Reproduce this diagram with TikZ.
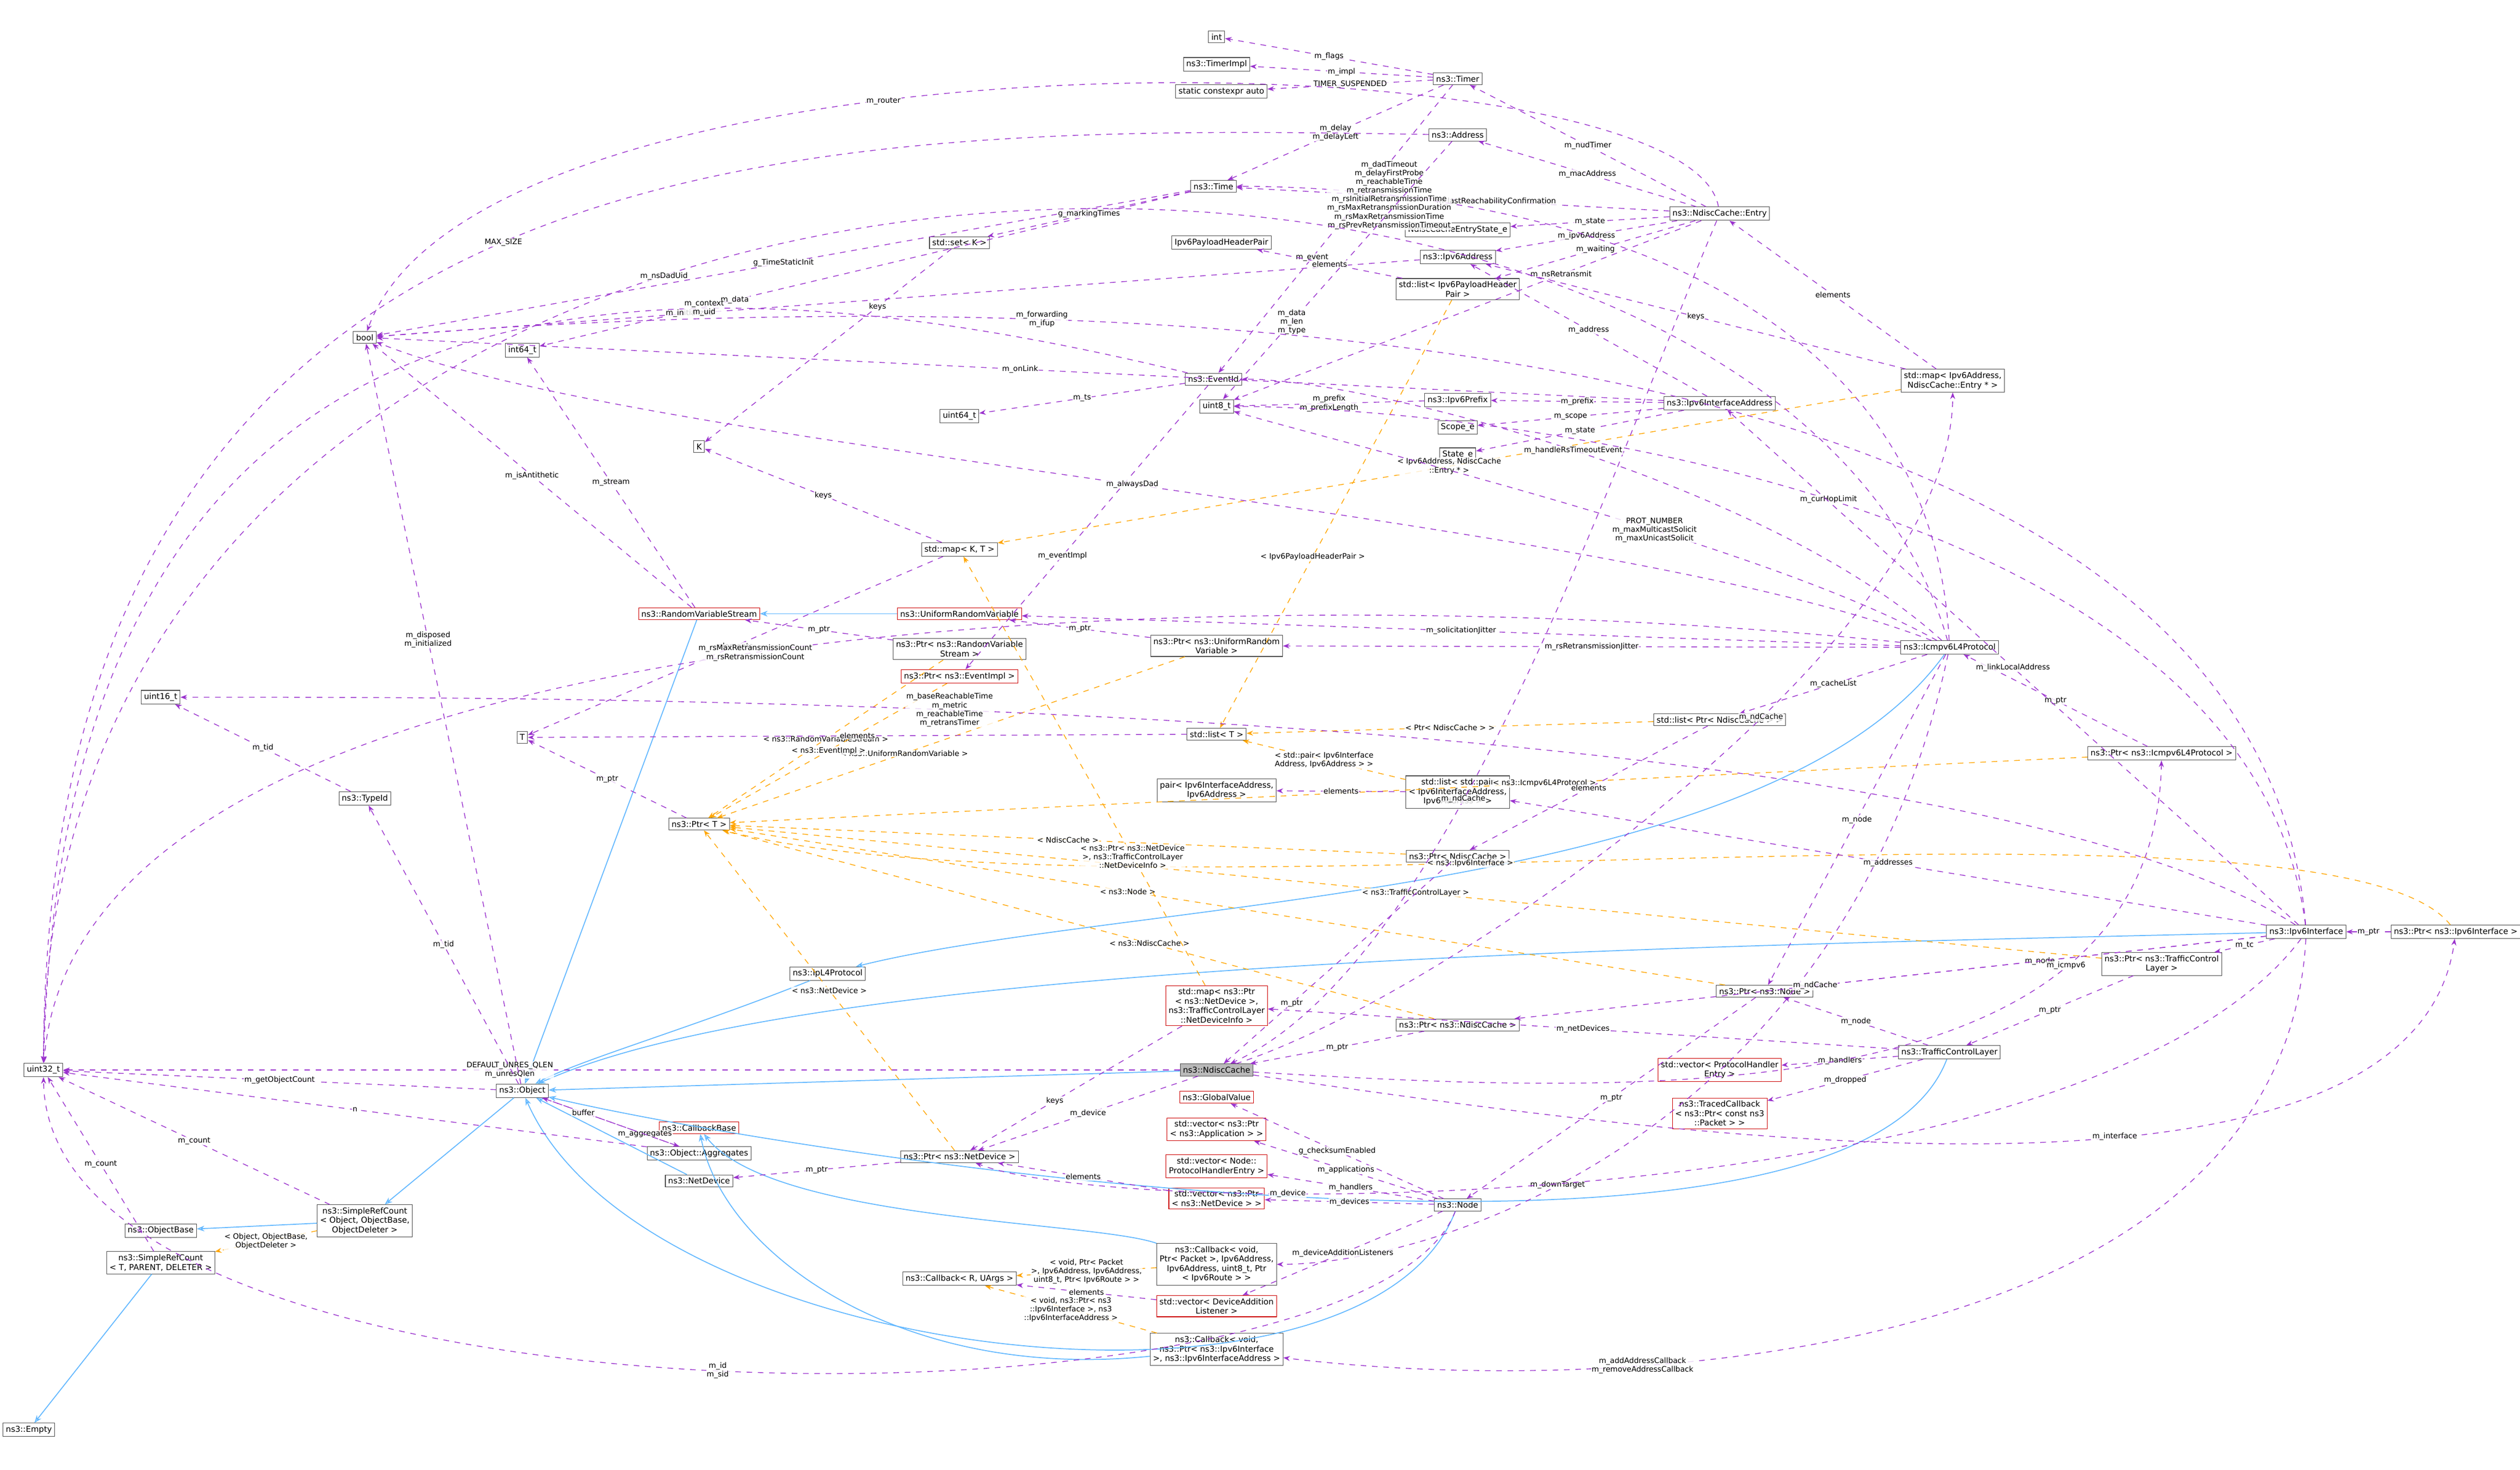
\documentclass[tikz,border=0pt]{standalone}
\usepackage{fontspec}
\setmainfont{DejaVu Sans}
\usetikzlibrary{arrows.meta}
\definecolor{usecol}{HTML}{9A32CD}
\definecolor{tplcol}{HTML}{FFA500}
\definecolor{inhcol}{HTML}{63B8FF}
\tikzset{
  cls/.style={draw=gray!60!black, fill=white, font=\fontsize{4.3}{5}\selectfont, inner sep=1.5pt, align=center, line width=0.3pt},
  redcls/.style={cls, draw=red!80!black},
  rootcls/.style={cls, fill=gray!55},
  uses/.style={draw=usecol, dashed, line width=0.4pt, -{Stealth[length=3.5pt]}},
  tpl/.style={draw=tplcol, dashed, line width=0.4pt, -{Stealth[length=3.5pt]}},
  inh/.style={draw=inhcol, line width=0.5pt, -{Stealth[length=4pt,open]}},
  lbl/.style={font=\fontsize{4}{4.6}\selectfont, align=center, fill=white, fill opacity=0.8, text opacity=1, inner sep=0.4pt}
}
\begin{document}
\begin{tikzpicture}[x=0.03cm, y=-0.03cm]
\useasboundingbox (0,0) rectangle (1568,915);

% nodes, top to bottom
\node[cls] (int) at (757,23) {int};
\node[cls] (timerimpl) at (757,40) {ns3::TimerImpl};
\node[cls] (sca) at (760,57) {static constexpr auto};
\node[cls] (timer) at (907,49) {ns3::Timer};
\node[cls] (address) at (907,84) {ns3::Address};
\node[cls] (time) at (755,116) {ns3::Time};
\node[cls] (entry) at (1070,133) {ns3::NdiscCache::Entry};
\node[cls] (state) at (907,143) {NdiscCacheEntryState\_e};
\node[cls] (phpair) at (760,151) {Ipv6PayloadHeaderPair};
\node[cls] (ip6addr) at (907,160) {ns3::Ipv6Address};
\node[cls] (setk) at (597,151) {std::set\textless{} K \textgreater{}};
\node[cls] (listph) at (907,180) {std::list\textless{} Ipv6PayloadHeader\\Pair \textgreater{}};
\node[cls] (bool) at (227,210) {bool};
\node[cls] (int64) at (325,218) {int64\_t};
\node[cls] (eventid) at (755,236) {ns3::EventId};
\node[cls] (uint64) at (597,259) {uint64\_t};
\node[cls] (uint8) at (757,253) {uint8\_t};
\node[cls] (prefix) at (907,249) {ns3::Ipv6Prefix};
\node[cls] (scope) at (907,266) {Scope\_e};
\node[cls] (statee) at (907,283) {State\_e};
\node[cls] (ifaddr) at (1070,251) {ns3::Ipv6InterfaceAddress};
\node[cls] (mapentry) at (1215,237) {std::map\textless{} Ipv6Address,\\NdiscCache::Entry * \textgreater{}};
\node[cls] (k) at (435,278) {K};
\node[cls] (mapkt) at (597,342) {std::map\textless{} K, T \textgreater{}};
\node[redcls] (rvs) at (435,382) {ns3::RandomVariableStream};
\node[redcls] (urv) at (597,382) {ns3::UniformRandomVariable};
\node[cls] (ptrrvs) at (597,404) {ns3::Ptr\textless{} ns3::RandomVariable\\Stream \textgreater{}};
\node[cls] (ptrurv) at (757,402) {ns3::Ptr\textless{} ns3::UniformRandom\\Variable \textgreater{}};
\node[redcls] (ptrev) at (597,421) {ns3::Ptr\textless{} ns3::EventImpl \textgreater{}};
\node[cls] (icmp) at (1213,403) {ns3::Icmpv6L4Protocol};
\node[cls] (uint16) at (100,434) {uint16\_t};
\node[cls] (t) at (325,459) {T};
\node[cls] (listt) at (757,457) {std::list\textless{} T \textgreater{}};
\node[cls] (listnc) at (1070,448) {std::list\textless{} Ptr\textless{} NdiscCache \textgreater{} \textgreater{}};
\node[cls] (ptricmp) at (1345,469) {ns3::Ptr\textless{} ns3::Icmpv6L4Protocol \textgreater{}};
\node[cls] (typeid) at (227,497) {ns3::TypeId};
\node[cls] (pair) at (757,492) {pair\textless{} Ipv6InterfaceAddress,\\Ipv6Address \textgreater{}};
\node[cls] (listpair) at (907,493) {std::list\textless{} std::pair\\\textless{} Ipv6InterfaceAddress,\\Ipv6Address \textgreater{} \textgreater{}};
\node[cls] (ptrt) at (435,513) {ns3::Ptr\textless{} T \textgreater{}};
\node[cls] (ptrnc) at (907,533) {ns3::Ptr\textless{} NdiscCache \textgreater{}};
\node[cls] (iface) at (1435,580) {ns3::Ipv6Interface};
\node[cls] (ptriface) at (1528,580) {ns3::Ptr\textless{} ns3::Ipv6Interface \textgreater{}};
\node[cls] (ipl4) at (515,606) {ns3::IpL4Protocol};
\node[cls] (ptrtc) at (1345,600) {ns3::Ptr\textless{} ns3::TrafficControl\\Layer \textgreater{}};
\node[cls] (ptrnode) at (1098,617) {ns3::Ptr\textless{} ns3::Node \textgreater{}};
\node[redcls] (mapnd) at (757,626) {std::map\textless{} ns3::Ptr\\\textless{} ns3::NetDevice \textgreater{},\\ns3::TrafficControlLayer\\::NetDeviceInfo \textgreater{}};
\node[cls] (ptrnc2) at (907,638) {ns3::Ptr\textless{} ns3::NdiscCache \textgreater{}};
\node[cls] (tcl) at (1213,655) {ns3::TrafficControlLayer};
\node[cls] (uint32) at (27,666) {uint32\_t};
\node[rootcls] (ndisc) at (757,666) {ns3::NdiscCache};
\node[redcls] (vecphe) at (1070,666) {std::vector\textless{} ProtocolHandler\\Entry \textgreater{}};
\node[cls] (object) at (325,679) {ns3::Object};
\node[redcls] (global) at (757,683) {ns3::GlobalValue};
\node[redcls] (traced) at (1070,693) {ns3::TracedCallback\\\textless{} ns3::Ptr\textless{} const ns3\\::Packet \textgreater{} \textgreater{}};
\node[redcls] (cbbase) at (435,702) {ns3::CallbackBase};
\node[redcls] (vecapp) at (757,703) {std::vector\textless{} ns3::Ptr\\\textless{} ns3::Application \textgreater{} \textgreater{}};
\node[cls] (aggr) at (435,718) {ns3::Object::Aggregates};
\node[cls] (ptrnd) at (597,720) {ns3::Ptr\textless{} ns3::NetDevice \textgreater{}};
\node[redcls] (vecnphe) at (757,726) {std::vector\textless{} Node::\\ProtocolHandlerEntry \textgreater{}};
\node[cls] (netdev) at (435,735) {ns3::NetDevice};
\node[redcls] (vecnd) at (757,746) {std::vector\textless{} ns3::Ptr\\\textless{} ns3::NetDevice \textgreater{} \textgreater{}};
\node[cls] (node) at (907,750) {ns3::Node};
\node[cls] (src) at (227,760) {ns3::SimpleRefCount\\\textless{} Object, ObjectBase,\\ObjectDeleter \textgreater{}};
\node[cls] (objbase) at (100,766) {ns3::ObjectBase};
\node[cls] (srt) at (100,786) {ns3::SimpleRefCount\\\textless{} T, PARENT, DELETER \textgreater{}};
\node[cls] (cbpkt) at (757,787) {ns3::Callback\textless{} void,\\Ptr\textless{} Packet \textgreater{}, Ipv6Address,\\Ipv6Address, uint8\_t, Ptr\\\textless{} Ipv6Route \textgreater{} \textgreater{}};
\node[cls] (cbr) at (597,796) {ns3::Callback\textless{} R, UArgs \textgreater{}};
\node[redcls] (vecdal) at (757,813) {std::vector\textless{} DeviceAddition\\Listener \textgreater{}};
\node[cls] (cbif) at (757,840) {ns3::Callback\textless{} void,\\ns3::Ptr\textless{} ns3::Ipv6Interface\\\textgreater{}, ns3::Ipv6InterfaceAddress \textgreater{}};
\node[cls] (empty) at (18,890) {ns3::Empty};

% inheritance
\draw[inh] (ndisc) -- (object);
\draw[inh] (rvs) -- (object);
\draw[inh] (urv) -- (rvs);
\draw[inh] (ipl4) .. controls (430,640) and (360,660) .. (object);
\draw[inh] (icmp) .. controls (1100,560) and (700,560) .. (ipl4);
\draw[inh] (iface) .. controls (1000,590) and (500,600) .. (object);
\draw[inh] (tcl) .. controls (1150,820) and (500,720) .. (object);
\draw[inh] (netdev) -- (object);
\draw[inh] (node) .. controls (850,900) and (400,850) .. (object);
\draw[inh] (object) -- (src);
\draw[inh] (src) -- (objbase);
\draw[inh] (srt) -- (empty);
\draw[inh] (cbpkt) .. controls (680,760) and (480,760) .. (cbbase);
\draw[inh] (cbif) .. controls (560,860) and (450,780) .. (cbbase);

% template instances
\draw[tpl] (src) -- node[lbl]{\textless{} Object, ObjectBase,\\ObjectDeleter \textgreater{}} (srt);
\draw[tpl] (listph) -- node[lbl, pos=0.6]{\textless{} Ipv6PayloadHeaderPair \textgreater{}} (listt);
\draw[tpl] (mapentry) -- node[lbl, pos=0.5]{\textless{} Ipv6Address, NdiscCache\\::Entry * \textgreater{}} (mapkt);
\draw[tpl] (listnc) -- node[lbl]{\textless{} Ptr\textless{} NdiscCache \textgreater{} \textgreater{}} (listt);
\draw[tpl] (listpair) -- node[lbl]{\textless{} std::pair\textless{} Ipv6Interface\\Address, Ipv6Address \textgreater{} \textgreater{}} (listt);
\draw[tpl] (ptrrvs) -- node[lbl]{\textless{} ns3::RandomVariableStream \textgreater{}} (ptrt);
\draw[tpl] (ptrurv) -- node[lbl, pos=0.6]{\textless{} ns3::UniformRandomVariable \textgreater{}} (ptrt);
\draw[tpl] (ptrev) -- node[lbl]{\textless{} ns3::EventImpl \textgreater{}} (ptrt);
\draw[tpl] (ptricmp) -- node[lbl, pos=0.4]{\textless{} ns3::Icmpv6L4Protocol \textgreater{}} (ptrt);
\draw[tpl] (ptrnc) -- node[lbl]{\textless{} NdiscCache \textgreater{}} (ptrt);
\draw[tpl] (ptrnode) -- node[lbl, pos=0.6]{\textless{} ns3::Node \textgreater{}} (ptrt);
\draw[tpl] (ptriface) .. controls (1450,480) and (700,580) .. node[lbl, pos=0.6]{\textless{} ns3::Ipv6Interface \textgreater{}} (ptrt);
\draw[tpl] (ptrtc) -- node[lbl, pos=0.5]{\textless{} ns3::TrafficControlLayer \textgreater{}} (ptrt);
\draw[tpl] (ptrnc2) -- node[lbl, pos=0.4]{\textless{} ns3::NdiscCache \textgreater{}} (ptrt);
\draw[tpl] (ptrnd) -- node[lbl]{\textless{} ns3::NetDevice \textgreater{}} (ptrt);
\draw[tpl] (mapnd) -- node[lbl, pos=0.3]{\textless{} ns3::Ptr\textless{} ns3::NetDevice\\\textgreater{}, ns3::TrafficControlLayer\\::NetDeviceInfo \textgreater{}} (mapkt);
\draw[tpl] (cbpkt) -- node[lbl]{\textless{} void, Ptr\textless{} Packet\\\textgreater{}, Ipv6Address, Ipv6Address,\\uint8\_t, Ptr\textless{} Ipv6Route \textgreater{} \textgreater{}} (cbr);
\draw[tpl] (cbif) -- node[lbl]{\textless{} void, ns3::Ptr\textless{} ns3\\::Ipv6Interface \textgreater{}, ns3\\::Ipv6InterfaceAddress \textgreater{}} (cbr);

% members
\draw[uses] (timer) -- node[lbl]{m\_flags} (int);
\draw[uses] (timer) -- node[lbl]{m\_impl} (timerimpl);
\draw[uses] (timer) -- node[lbl]{TIMER\_SUSPENDED} (sca);
\draw[uses] (timer) -- node[lbl]{m\_delay\\m\_delayLeft} (time);
\draw[uses] (timer) -- node[lbl, pos=0.6]{m\_event} (eventid);
\draw[uses] (entry) -- node[lbl]{m\_nudTimer} (timer);
\draw[uses] (entry) -- node[lbl]{m\_macAddress} (address);
\draw[uses] (entry) -- node[lbl, pos=0.4]{m\_lastReachabilityConfirmation} (time);
\draw[uses] (entry) -- node[lbl]{m\_state} (state);
\draw[uses] (entry) -- node[lbl]{m\_ipv6Address} (ip6addr);
\draw[uses] (entry) -- node[lbl]{m\_waiting} (listph);
\draw[uses] (entry) -- node[lbl, pos=0.3]{m\_nsRetransmit} (uint8);
\draw[uses] (entry) .. controls (1050,20) and (300,10) .. node[lbl, pos=0.6]{m\_router} (bool);
\draw[uses] (entry) .. controls (1000,300) and (900,600) .. node[lbl, pos=0.6]{m\_ndCache} (ndisc);
\draw[uses] (icmp) .. controls (1200,150) and (900,116) .. node[lbl, pos=0.8]{m\_dadTimeout\\m\_delayFirstProbe\\m\_reachableTime\\m\_retransmissionTime\\m\_rsInitialRetransmissionTime\\m\_rsMaxRetransmissionDuration\\m\_rsMaxRetransmissionTime\\m\_rsPrevRetransmissionTimeout} (time);
\draw[uses] (icmp) .. controls (1100,5) and (30,5) .. node[lbl, pos=0.6]{m\_nsDadUid} (uint32);
\draw[uses] (time) -- node[lbl]{g\_TimeStaticInit} (bool);
\draw[uses] (time) -- node[lbl, pos=0.7]{m\_data} (int64);
\draw[uses] (time) -- node[lbl]{g\_markingTimes} (setk);
\draw[uses] (address) .. controls (500,77) and (30,77) .. node[lbl, pos=0.5]{MAX\_SIZE} (uint32);
\draw[uses] (address) -- node[lbl, pos=0.7]{m\_data\\m\_len\\m\_type} (uint8);
\draw[uses] (ip6addr) -- node[lbl, pos=0.7]{m\_initialized} (bool);
\draw[uses] (listph) -- node[lbl]{elements} (phpair);
\draw[uses] (setk) -- node[lbl, pos=0.3]{keys} (k);
\draw[uses] (eventid) .. controls (400,150) and (40,150) .. node[lbl, pos=0.3]{m\_context\\m\_uid} (uint32);
\draw[uses] (eventid) -- node[lbl]{m\_ts} (uint64);
\draw[uses] (eventid) -- node[lbl, pos=0.6]{m\_eventImpl} (ptrev);
\draw[uses] (prefix) -- node[lbl]{m\_prefix\\m\_prefixLength} (uint8);
\draw[uses] (ifaddr) -- node[lbl]{m\_prefix} (prefix);
\draw[uses] (ifaddr) -- node[lbl]{m\_scope} (scope);
\draw[uses] (ifaddr) -- node[lbl]{m\_state} (statee);
\draw[uses] (ifaddr) -- node[lbl]{m\_address} (ip6addr);
\draw[uses] (ifaddr) -- node[lbl, pos=0.5]{m\_onLink} (bool);
\draw[uses] (mapentry) -- node[lbl]{elements} (entry);
\draw[uses] (mapentry) -- node[lbl]{keys} (ip6addr);
\draw[uses] (mapkt) -- node[lbl]{keys} (k);
\draw[uses] (mapkt) -- node[lbl, pos=0.5]{elements} (t);
\draw[uses] (rvs) -- node[lbl]{m\_isAntithetic} (bool);
\draw[uses] (rvs) -- node[lbl]{m\_stream} (int64);
\draw[uses] (ptrrvs) -- node[lbl]{m\_ptr} (rvs);
\draw[uses] (ptrurv) -- node[lbl]{m\_ptr} (urv);
\draw[uses] (icmp) -- node[lbl]{m\_solicitationJitter} (urv);
\draw[uses] (icmp) -- node[lbl]{m\_rsRetransmissionJitter} (ptrurv);
\draw[uses] (icmp) .. controls (1000,320) and (400,280) .. node[lbl, pos=0.5]{m\_alwaysDad} (bool);
\draw[uses] (icmp) .. controls (1100,340) and (850,280) .. node[lbl, pos=0.4]{PROT\_NUMBER\\m\_maxMulticastSolicit\\m\_maxUnicastSolicit} (uint8);
\draw[uses] (icmp) .. controls (1100,300) and (850,236) .. node[lbl, pos=0.5]{m\_handleRsTimeoutEvent} (eventid);
\draw[uses] (icmp) .. controls (800,360) and (50,370) .. node[lbl, pos=0.5]{m\_rsMaxRetransmissionCount\\m\_rsRetransmissionCount} (uint32);
\draw[uses] (icmp) -- node[lbl]{m\_cacheList} (listnc);
\draw[uses] (icmp) -- node[lbl, pos=0.5]{m\_node} (ptrnode);
\draw[uses] (icmp) .. controls (1150,700) and (900,787) .. node[lbl, pos=0.6]{m\_downTarget} (cbpkt);
\draw[uses] (listt) -- node[lbl]{elements} (t);
\draw[uses] (listnc) -- node[lbl]{elements} (ptrnc);
\draw[uses] (listpair) -- node[lbl]{elements} (pair);
\draw[uses] (ptricmp) -- node[lbl]{m\_ptr} (icmp);
\draw[uses] (typeid) -- node[lbl]{m\_tid} (uint16);
\draw[uses] (ptrt) -- node[lbl]{m\_ptr} (t);
\draw[uses] (ptrnc) -- node[lbl, pos=0.7]{m\_ptr} (ndisc);
\draw[uses] (iface) .. controls (1400,300) and (900,253) .. node[lbl, pos=0.5]{m\_curHopLimit} (uint8);
\draw[uses] (iface) .. controls (1400,170) and (600,180) .. node[lbl, pos=0.7]{m\_forwarding\\m\_ifup} (bool);
\draw[uses] (iface) -- node[lbl]{m\_linkLocalAddress} (ifaddr);
\draw[uses] (iface) -- node[lbl]{m\_addresses} (listpair);
\draw[uses] (iface) -- node[lbl]{m\_node} (ptrnode);
\draw[uses] (iface) -- node[lbl]{m\_tc} (ptrtc);
\draw[uses] (iface) -- node[lbl, pos=0.6]{m\_ndCache} (ptrnc2);
\draw[uses] (iface) .. controls (1300,760) and (700,760) .. node[lbl, pos=0.7]{m\_device} (ptrnd);
\draw[uses] (iface) .. controls (1200,430) and (300,434) .. node[lbl, pos=0.6]{m\_baseReachableTime\\m\_metric\\m\_reachableTime\\m\_retransTimer} (uint16);
\draw[uses] (iface) .. controls (1420,850) and (1000,870) .. node[lbl, pos=0.7]{m\_addAddressCallback\\m\_removeAddressCallback} (cbif);
\draw[uses] (ptriface) -- node[lbl]{m\_ptr} (iface);
\draw[uses] (ptrtc) -- node[lbl]{m\_ptr} (tcl);
\draw[uses] (ptrnode) -- node[lbl]{m\_ptr} (node);
\draw[uses] (tcl) -- node[lbl]{m\_node} (ptrnode);
\draw[uses] (tcl) -- node[lbl]{m\_netDevices} (mapnd);
\draw[uses] (tcl) -- node[lbl]{m\_handlers} (vecphe);
\draw[uses] (tcl) -- node[lbl]{m\_dropped} (traced);
\draw[uses] (mapnd) -- node[lbl, pos=0.6]{keys} (ptrnd);
\draw[uses] (ptrnc2) -- node[lbl]{m\_ptr} (ndisc);
\draw[uses] (ndisc) -- node[lbl, pos=0.6]{DEFAULT\_UNRES\_QLEN\\m\_unresQlen} (uint32);
\draw[uses] (ndisc) -- node[lbl]{m\_device} (ptrnd);
\draw[uses] (ndisc) .. controls (1000,700) and (1500,780) .. node[lbl, pos=0.6]{m\_interface} (ptriface);
\draw[uses] (ndisc) .. controls (1000,680) and (1340,700) .. node[lbl, pos=0.75]{m\_icmpv6} (ptricmp);
\draw[uses] (ndisc) .. controls (900,620) and (1215,400) .. node[lbl, pos=0.6]{m\_ndCache} (mapentry);
\draw[uses] (object) -- node[lbl]{m\_getObjectCount} (uint32);
\draw[uses] (object) -- node[lbl, pos=0.75]{m\_aggregates} (aggr);
\draw[uses] (object) -- node[lbl]{m\_tid} (typeid);
\draw[uses] (object) -- node[lbl, pos=0.6]{m\_disposed\\m\_initialized} (bool);
\draw[uses] (aggr) -- node[lbl, pos=0.7]{buffer} (object);
\draw[uses] (aggr) -- node[lbl]{n} (uint32);
\draw[uses] (ptrnd) -- node[lbl]{m\_ptr} (netdev);
\draw[uses] (node) -- node[lbl]{g\_checksumEnabled} (global);
\draw[uses] (node) -- node[lbl]{m\_applications} (vecapp);
\draw[uses] (node) -- node[lbl]{m\_handlers} (vecnphe);
\draw[uses] (node) -- node[lbl]{m\_devices} (vecnd);
\draw[uses] (node) -- node[lbl]{m\_deviceAdditionListeners} (vecdal);
\draw[uses] (node) .. controls (850,900) and (30,900) .. node[lbl, pos=0.5]{m\_id\\m\_sid} (uint32);
\draw[uses] (vecnd) -- node[lbl]{elements} (ptrnd);
\draw[uses] (vecdal) -- node[lbl]{elements} (cbr);
\draw[uses] (src) -- node[lbl]{m\_count} (uint32);
\draw[uses] (srt) -- node[lbl]{m\_count} (uint32);
\end{tikzpicture}
\end{document}
